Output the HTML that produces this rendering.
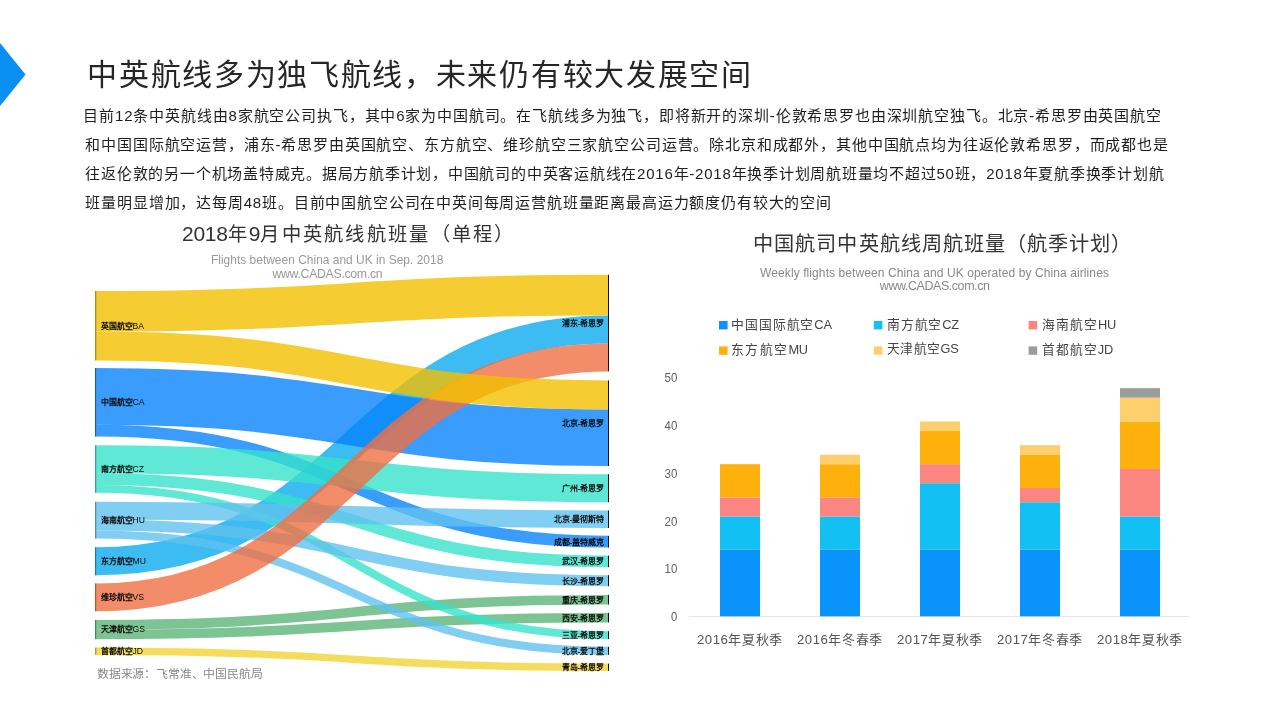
<!DOCTYPE html>
<html lang="zh-CN"><head><meta charset="utf-8">
<style>
html,body{margin:0;padding:0;background:#fff;}
body{width:1270px;height:714px;overflow:hidden;position:relative;font-family:"Liberation Sans",sans-serif;}
svg{position:absolute;left:0;top:0;will-change:transform;}
svg text{font-family:"Liberation Sans",sans-serif;white-space:pre;}
.sl{font-size:8px;fill:#0a0a0a;font-weight:bold;}
.sla{font-weight:normal;font-size:8.6px;}
.yt{font-size:12.8px;fill:#606060;}
</style></head><body>
<svg width="1270" height="714" viewBox="0 0 1270 714">
<polygon points="0,43 25.5,74.5 0,106" fill="#0a8ef2"/>
<g fill="none" stroke-opacity="0.8">
<path d="M96.5,561.25C352.25,561.25 352.25,329.45 608,329.45" stroke="#0babef" stroke-width="28.1"/>
<path d="M96.5,396.4C352.25,396.4 352.25,437.7 608,437.7" stroke="#0983fb" stroke-width="56.6"/>
<path d="M96.5,430.6C352.25,430.6 352.25,541.7 608,541.7" stroke="#0983fb" stroke-width="11.8"/>
<path d="M96.5,624.75C352.25,624.75 352.25,599.75 608,599.75" stroke="#5bb578" stroke-width="9.7"/>
<path d="M96.5,634.4C352.25,634.4 352.25,617.7 608,617.7" stroke="#5bb578" stroke-width="9.6"/>
<path d="M96.5,651.25C352.25,651.25 352.25,667.25 608,667.25" stroke="#f2d333" stroke-width="7.3"/>
<path d="M96.5,459.3C352.25,459.3 352.25,488.2 608,488.2" stroke="#37e2cc" stroke-width="28"/>
<path d="M96.5,479.1C352.25,479.1 352.25,561.4 608,561.4" stroke="#37e2cc" stroke-width="11.6"/>
<path d="M96.5,488.85C352.25,488.85 352.25,635.15 608,635.15" stroke="#37e2cc" stroke-width="7.9"/>
<path d="M96.5,510.6C352.25,510.6 352.25,519.2 608,519.2" stroke="#60c2ef" stroke-width="17.6"/>
<path d="M96.5,524.9C352.25,524.9 352.25,580.7 608,580.7" stroke="#60c2ef" stroke-width="11"/>
<path d="M96.5,534.45C352.25,534.45 352.25,650.85 608,650.85" stroke="#60c2ef" stroke-width="8.1"/>
<path d="M96.5,597.35C352.25,597.35 352.25,357.45 608,357.45" stroke="#ef6f44" stroke-width="27.9"/>
<path d="M96.5,311.2C352.25,311.2 352.25,295.1 608,295.1" stroke="#f2c000" stroke-width="40.6"/>
<path d="M96.5,346C352.25,346 352.25,394.9 608,394.9" stroke="#f2c000" stroke-width="29"/>
</g>
<rect x="95" y="290.9" width="1.5" height="69.6" fill="#f2c000"/>
<rect x="95" y="290.9" width="1.5" height="69.6" fill="#000" fill-opacity="0.25"/>
<rect x="95" y="368.1" width="1.5" height="68.4" fill="#0983fb"/>
<rect x="95" y="368.1" width="1.5" height="68.4" fill="#000" fill-opacity="0.25"/>
<rect x="95" y="445.3" width="1.5" height="47.5" fill="#37e2cc"/>
<rect x="95" y="445.3" width="1.5" height="47.5" fill="#000" fill-opacity="0.25"/>
<rect x="95" y="501.8" width="1.5" height="36.7" fill="#60c2ef"/>
<rect x="95" y="501.8" width="1.5" height="36.7" fill="#000" fill-opacity="0.25"/>
<rect x="95" y="547.2" width="1.5" height="28.1" fill="#0babef"/>
<rect x="95" y="547.2" width="1.5" height="28.1" fill="#000" fill-opacity="0.25"/>
<rect x="95" y="583.4" width="1.5" height="27.9" fill="#ef6f44"/>
<rect x="95" y="583.4" width="1.5" height="27.9" fill="#000" fill-opacity="0.25"/>
<rect x="95" y="619.9" width="1.5" height="19.3" fill="#5bb578"/>
<rect x="95" y="619.9" width="1.5" height="19.3" fill="#000" fill-opacity="0.25"/>
<rect x="95" y="647.6" width="1.5" height="7.3" fill="#f2d333"/>
<rect x="95" y="647.6" width="1.5" height="7.3" fill="#000" fill-opacity="0.25"/>
<rect x="608" y="274.8" width="1" height="96.6" fill="#111"/>
<rect x="608" y="380.4" width="1" height="85.6" fill="#111"/>
<rect x="608" y="474.2" width="1" height="28" fill="#111"/>
<rect x="608" y="510.4" width="1" height="17.6" fill="#111"/>
<rect x="608" y="535.8" width="1" height="11.8" fill="#111"/>
<rect x="608" y="555.6" width="1" height="11.6" fill="#111"/>
<rect x="608" y="575.2" width="1" height="11" fill="#111"/>
<rect x="608" y="594.9" width="1" height="9.7" fill="#111"/>
<rect x="608" y="612.9" width="1" height="9.6" fill="#111"/>
<rect x="608" y="631.2" width="1" height="7.9" fill="#111"/>
<rect x="608" y="646.8" width="1" height="8.1" fill="#111"/>
<rect x="608" y="663.6" width="1" height="7.3" fill="#111"/>
<text x="100.5" y="328.6" class="sl">英国航空<tspan class="sla">BA</tspan></text>
<text x="100.5" y="405.2" class="sl">中国航空<tspan class="sla">CA</tspan></text>
<text x="100.5" y="471.95" class="sl">南方航空<tspan class="sla">CZ</tspan></text>
<text x="100.5" y="523.05" class="sl">海南航空<tspan class="sla">HU</tspan></text>
<text x="100.5" y="564.15" class="sl">东方航空<tspan class="sla">MU</tspan></text>
<text x="100.5" y="600.25" class="sl">维珍航空<tspan class="sla">VS</tspan></text>
<text x="100.5" y="632.45" class="sl">天津航空<tspan class="sla">GS</tspan></text>
<text x="100.5" y="654.15" class="sl">首都航空<tspan class="sla">JD</tspan></text>
<text x="604.2" y="326" class="sl" text-anchor="end">浦东-希思罗</text>
<text x="604.2" y="426.1" class="sl" text-anchor="end">北京-希思罗</text>
<text x="604.2" y="491.1" class="sl" text-anchor="end">广州-希思罗</text>
<text x="604.2" y="522.1" class="sl" text-anchor="end">北京-曼彻斯特</text>
<text x="604.2" y="544.6" class="sl" text-anchor="end">成都-盖特威克</text>
<text x="604.2" y="564.3" class="sl" text-anchor="end">武汉-希思罗</text>
<text x="604.2" y="583.6" class="sl" text-anchor="end">长沙-希思罗</text>
<text x="604.2" y="602.65" class="sl" text-anchor="end">重庆-希思罗</text>
<text x="604.2" y="620.6" class="sl" text-anchor="end">西安-希思罗</text>
<text x="604.2" y="638.05" class="sl" text-anchor="end">三亚-希思罗</text>
<text x="604.2" y="653.75" class="sl" text-anchor="end">北京-爱丁堡</text>
<text x="604.2" y="670.15" class="sl" text-anchor="end">青岛-希思罗</text>
<rect x="719" y="321" width="8.6" height="8.4" fill="#0a93fb"/>
<rect x="873.8" y="321" width="8.6" height="8.4" fill="#12c0f4"/>
<rect x="1028.6" y="321" width="8.6" height="8.4" fill="#fb8580"/>
<rect x="719" y="346.4" width="8.6" height="8.4" fill="#feb00c"/>
<rect x="873.8" y="346.4" width="8.6" height="8.4" fill="#fed06d"/>
<rect x="1028.6" y="346.4" width="8.6" height="8.4" fill="#9c9c9c"/>
<line x1="689" y1="616.5" x2="1189" y2="616.5" stroke="#e3e6ec" stroke-width="1"/>
<text x="670.9" y="621.1" class="yt" textLength="6.3" lengthAdjust="spacingAndGlyphs">0</text>
<text x="664.5" y="573.3" class="yt" textLength="12.8" lengthAdjust="spacingAndGlyphs">10</text>
<text x="664.5" y="525.5" class="yt" textLength="12.8" lengthAdjust="spacingAndGlyphs">20</text>
<text x="664.5" y="477.7" class="yt" textLength="12.8" lengthAdjust="spacingAndGlyphs">30</text>
<text x="664.5" y="429.9" class="yt" textLength="12.8" lengthAdjust="spacingAndGlyphs">40</text>
<text x="664.5" y="382.1" class="yt" textLength="12.8" lengthAdjust="spacingAndGlyphs">50</text>
<rect x="720" y="549.76" width="40" height="66.54" fill="#0a93fb"/>
<rect x="720" y="516.49" width="40" height="33.27" fill="#12c0f4"/>
<rect x="720" y="497.47" width="40" height="19.01" fill="#fb8580"/>
<rect x="720" y="464.2" width="40" height="33.27" fill="#feb00c"/>
<rect x="820" y="549.76" width="40" height="66.54" fill="#0a93fb"/>
<rect x="820" y="516.49" width="40" height="33.27" fill="#12c0f4"/>
<rect x="820" y="497.47" width="40" height="19.01" fill="#fb8580"/>
<rect x="820" y="464.2" width="40" height="33.27" fill="#feb00c"/>
<rect x="820" y="454.7" width="40" height="9.51" fill="#fed06d"/>
<rect x="920" y="549.76" width="40" height="66.54" fill="#0a93fb"/>
<rect x="920" y="483.22" width="40" height="66.54" fill="#12c0f4"/>
<rect x="920" y="464.2" width="40" height="19.01" fill="#fb8580"/>
<rect x="920" y="430.93" width="40" height="33.27" fill="#feb00c"/>
<rect x="920" y="421.43" width="40" height="9.51" fill="#fed06d"/>
<rect x="1020" y="549.76" width="40" height="66.54" fill="#0a93fb"/>
<rect x="1020" y="502.23" width="40" height="47.53" fill="#12c0f4"/>
<rect x="1020" y="487.97" width="40" height="14.26" fill="#fb8580"/>
<rect x="1020" y="454.7" width="40" height="33.27" fill="#feb00c"/>
<rect x="1020" y="445.19" width="40" height="9.51" fill="#fed06d"/>
<rect x="1120" y="549.76" width="40" height="66.54" fill="#0a93fb"/>
<rect x="1120" y="516.49" width="40" height="33.27" fill="#12c0f4"/>
<rect x="1120" y="468.96" width="40" height="47.53" fill="#fb8580"/>
<rect x="1120" y="421.43" width="40" height="47.53" fill="#feb00c"/>
<rect x="1120" y="397.66" width="40" height="23.77" fill="#fed06d"/>
<rect x="1120" y="388.16" width="40" height="9.51" fill="#9c9c9c"/>
<text x="87.2" y="85.3" textLength="663.8" lengthAdjust="spacing" style="font-size:30px;fill:#262626">中英航线多为独飞航线，未来仍有较大发展空间</text>
<text x="83.4" y="121" textLength="1077.6" lengthAdjust="spacing" style="font-size:15px;fill:#1e1e1e">目前12条中英航线由8家航空公司执飞，其中6家为中国航司。在飞航线多为独飞，即将新开的深圳-伦敦希思罗也由深圳航空独飞。北京-希思罗由英国航空</text>
<text x="85.4" y="149.8" textLength="1082.5" lengthAdjust="spacing" style="font-size:15px;fill:#1e1e1e">和中国国际航空运营，浦东-希思罗由英国航空、东方航空、维珍航空三家航空公司运营。除北京和成都外，其他中国航点均为往返伦敦希思罗，而成都也是</text>
<text x="85.4" y="178.6" textLength="1078.3" lengthAdjust="spacing" style="font-size:15px;fill:#1e1e1e">往返伦敦的另一个机场盖特威克。据局方航季计划，中国航司的中英客运航线在2016年-2018年换季计划周航班量均不超过50班，2018年夏航季换季计划航</text>
<text x="85.4" y="207.6" textLength="745.7" lengthAdjust="spacing" style="font-size:15px;fill:#1e1e1e">班量明显增加，达每周48班。目前中国航空公司在中英间每周运营航班量距离最高运力额度仍有较大的空间</text>
<text x="182" y="241.3" style="font-size:19.3px;fill:#333"><tspan style="font-size:21px;letter-spacing:-0.3px">2018</tspan><tspan style="letter-spacing:2.29px">年</tspan><tspan style="font-size:21px;letter-spacing:-0.3px">9</tspan><tspan style="letter-spacing:2.29px">月中英航线航班量（单程）</tspan></text>
<text x="210.9" y="263.8" textLength="232.4" lengthAdjust="spacing" style="font-size:11.9px;fill:#999">Flights between China and UK in Sep. 2018</text>
<text x="272.4" y="278.4" textLength="110.2" lengthAdjust="spacing" style="font-size:12.3px;fill:#999">www.CADAS.com.cn</text>
<text x="753.2" y="251.3" textLength="378.2" lengthAdjust="spacing" style="font-size:20.2px;fill:#333">中国航司中英航线周航班量（航季计划）</text>
<text x="760.1" y="276.7" textLength="348.8" lengthAdjust="spacing" style="font-size:12px;fill:#888">Weekly flights between China and UK operated by China airlines</text>
<text x="879.8" y="290.3" textLength="110.1" lengthAdjust="spacing" style="font-size:12.5px;fill:#888">www.CADAS.com.cn</text>
<text x="731" y="328.85" style="font-size:12.8px;fill:#444"><tspan style="letter-spacing:0.89px">中国国际航空</tspan><tspan style="font-size:12.8px;letter-spacing:-0.2px">CA</tspan></text>
<text x="887" y="328.85" style="font-size:12.8px;fill:#444"><tspan style="letter-spacing:0.8px">南方航空</tspan><tspan style="font-size:12.8px;letter-spacing:-0.2px">CZ</tspan></text>
<text x="1042" y="328.85" style="font-size:12.8px;fill:#444"><tspan style="letter-spacing:1px">海南航空</tspan><tspan style="font-size:12.8px;letter-spacing:-0.2px">HU</tspan></text>
<text x="731" y="353.85" style="font-size:12.8px;fill:#444"><tspan style="letter-spacing:1.34px">东方航空</tspan><tspan style="font-size:12.8px;letter-spacing:-0.2px">MU</tspan></text>
<text x="887" y="353.35" style="font-size:12.8px;fill:#444"><tspan style="letter-spacing:0.4px">天津航空</tspan><tspan style="font-size:12.8px;letter-spacing:-0.2px">GS</tspan></text>
<text x="1042" y="353.85" style="font-size:12.8px;fill:#444"><tspan style="letter-spacing:0.94px">首都航空</tspan><tspan style="font-size:12.8px;letter-spacing:-0.2px">JD</tspan></text>
<text x="97" y="677.8" textLength="165.8" lengthAdjust="spacing" style="font-size:11.9px;fill:#888">数据来源：飞常准、中国民航局</text>
<text x="697" y="643.7" style="font-size:13px;fill:#555"><tspan style="font-size:13.2px;letter-spacing:0.5px">2016</tspan><tspan style="letter-spacing:0.71px">年夏秋季</tspan></text>
<text x="797" y="643.7" style="font-size:13px;fill:#555"><tspan style="font-size:13.2px;letter-spacing:0.5px">2016</tspan><tspan style="letter-spacing:0.71px">年冬春季</tspan></text>
<text x="897" y="643.7" style="font-size:13px;fill:#555"><tspan style="font-size:13.2px;letter-spacing:0.5px">2017</tspan><tspan style="letter-spacing:0.71px">年夏秋季</tspan></text>
<text x="997" y="643.7" style="font-size:13px;fill:#555"><tspan style="font-size:13.2px;letter-spacing:0.5px">2017</tspan><tspan style="letter-spacing:0.71px">年冬春季</tspan></text>
<text x="1097" y="643.7" style="font-size:13px;fill:#555"><tspan style="font-size:13.2px;letter-spacing:0.5px">2018</tspan><tspan style="letter-spacing:0.71px">年夏秋季</tspan></text>
</svg>
</body></html>
